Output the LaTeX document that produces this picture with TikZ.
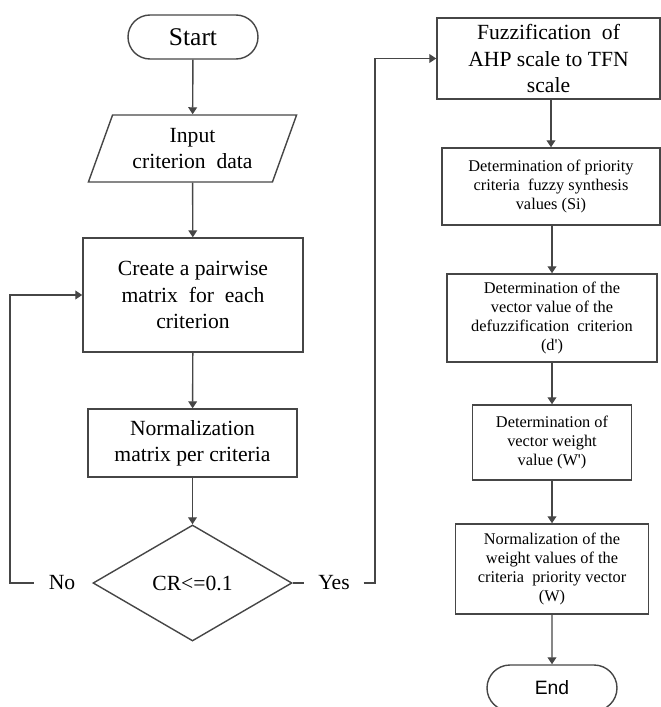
\documentclass[tikz,border=0pt]{standalone}
\usepackage{fontspec}
\setmainfont{Liberation Serif}
\newfontfamily\endfont{Liberation Sans}
\usepackage{xcolor}
\usepackage{tikz}
\usetikzlibrary{arrows.meta,shapes.geometric,shapes.misc}

\definecolor{linegray}{RGB}{70,70,70}

\begin{document}
\begin{tikzpicture}[
  every node/.style={align=center,inner sep=0pt,text=black},
  box/.style={draw=linegray,line width=0.8pt,rectangle},
  bigtext/.style={font=\fontsize{12.3}{15}\selectfont},
  smalltext/.style={font=\fontsize{9.3}{10.9}\selectfont},
  arr/.style={draw=linegray,line width=0.8pt,-{Triangle[width=5pt,length=4pt]}},
  line/.style={draw=linegray,line width=0.8pt}
]
\useasboundingbox (0,0) rectangle (13.22,-14.14);
% left column
\node[draw=linegray,line width=0.8pt,rounded rectangle,minimum width=2.6cm,minimum height=0.88cm,font=\fontsize{14.5}{17}\selectfont] (start) at (3.86,-0.74) {Start};
\node[draw=linegray,line width=0.8pt,trapezium,trapezium left angle=66,trapezium right angle=114,trapezium stretches=true,minimum width=4.18cm,minimum height=1.34cm,bigtext] (input) at (3.85,-2.97) {Input\\criterion\ \ data};
\node[box,minimum width=4.4cm,minimum height=2.28cm,bigtext] (create) at (3.86,-5.9) {Create a pairwise\\matrix\ \ for\ \ each\\criterion};
\node[box,minimum width=4.18cm,minimum height=1.36cm,bigtext] (norm) at (3.85,-8.86) {Normalization\\matrix per criteria};
\node[draw=linegray,line width=0.8pt,diamond,minimum width=3.98cm,minimum height=2.32cm,bigtext] (cr) at (3.85,-11.66) {CR<=0.1};
\node[bigtext,inner xsep=0.29cm] (no) at (1.24,-11.66) {No};
\node[bigtext,inner xsep=0.27cm] (yes) at (6.68,-11.66) {Yes};
% right column
\node[box,minimum width=4.46cm,minimum height=1.62cm,bigtext] (fuzz) at (10.97,-1.17) {Fuzzification\ \ of\\AHP scale to TFN\\scale};
\node[box,minimum width=4.36cm,minimum height=1.54cm,smalltext] (prio) at (11.02,-3.73) {Determination of priority\\criteria\ \ fuzzy synthesis\\values (Si)};
\node[box,minimum width=4.2cm,minimum height=1.76cm,smalltext] (defuzz) at (11.04,-6.36) {Determination of the\\vector value of the\\defuzzification\ \ criterion\\(d\textquotesingle)};
\node[box,minimum width=3.18cm,minimum height=1.5cm,smalltext] (weight) at (11.04,-8.85) {Determination of\\vector weight\\value (W\textquotesingle)};
\node[box,minimum width=3.86cm,minimum height=1.8cm,smalltext] (normw) at (11.04,-11.38) {Normalization of the\\weight values of the\\criteria\ \ priority vector\\(W)};
\node[draw=linegray,line width=0.8pt,rounded rectangle,minimum width=2.6cm,minimum height=0.92cm,font=\endfont\fontsize{11}{13}\selectfont] (end) at (11.04,-13.76) {End};
\coordinate (noturn) at (0.2,-5.9);
\coordinate (yesturn) at (7.5,-1.17);
\draw[arr] (start) -- (input);
\draw[arr] (input) -- (create);
\draw[arr] (create) -- (norm);
\draw[arr] (norm) -- (cr);
\draw[arr] (no.west) -| (noturn) -- (create.west);
\draw[line] (cr.east) -- (yes.west);
\draw[arr] (yes.east) -| (yesturn) -- (fuzz.west);
\draw[arr] (fuzz.south -| prio.north) -- (prio.north);
\draw[arr] (prio.south -| defuzz.north) -- (defuzz.north);
\draw[arr] (defuzz) -- (weight);
\draw[arr] (weight) -- (normw);
\draw[arr] (normw) -- (end);
\end{tikzpicture}
\end{document}
